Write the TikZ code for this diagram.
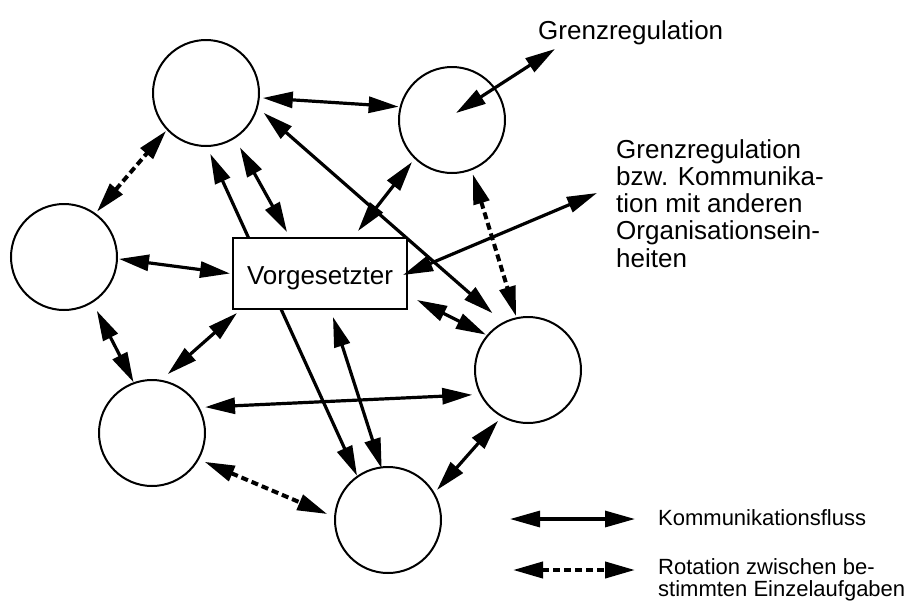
\documentclass[tikz,border=0pt]{standalone}
\usepackage{fontspec}
\setmainfont{Liberation Sans}
\usetikzlibrary{arrows.meta,calc,backgrounds}

\begin{document}
\begin{tikzpicture}[x=1pt,y=-1pt,
  unit/.style={circle,draw,line width=2pt,minimum size=106pt,inner sep=0pt,outer sep=0pt},
  chief/.style={draw,fill=white,line width=2pt,minimum width=174pt,minimum height=71pt,
    inner sep=0pt,outer sep=0pt,font=\fontsize{26}{27.3}\selectfont,text height=21pt,text depth=0pt},
  flow/.style={line width=3.2pt,{Triangle[length=30pt,width=16pt]}-{Triangle[length=30pt,width=16pt]}},
  rot/.style={flow,line width=4pt,dash pattern=on 7pt off 4pt},
  lbl/.style={inner sep=0pt,font=\fontsize{26}{27.3}\selectfont,align=left},
  leg/.style={inner sep=0pt,font=\fontsize{22}{22}\selectfont,align=left}]
\useasboundingbox (0,0) rectangle (910,608);

% organisational units and the supervisor
\node[unit] (c1) at (206,93) {};
\node[unit] (c2) at (452,120) {};
\node[unit] (c3) at (64,257) {};
\node[unit] (c4) at (528,370) {};
\node[unit] (c5) at (152,433) {};
\node[unit] (c6) at (388,520) {};
\node[chief] (box) at (320,273.5) {Vorgesetzter};

% outside labels
\node[lbl,anchor=base west] (gr1txt) at (538,39) {Grenzregulation};
\node[lbl,anchor=north west] (gr2txt) at (616,139)
  {Grenzregulation\\bzw. Kommunika-\\tion mit anderen\\Organisationsein-\\heiten};
\coordinate (gr1) at (555,49);
\coordinate (gr2) at (597,193);

% long lines running behind the supervisor box
\begin{pgfonlayer}{background}
\draw[flow] ($(c1)+(86:61)$) -- ($(c6)+(-125:54)$);
\draw[flow] ($(c1)+(19:61)$) -- ($(c4)+(-122:67)$);
\end{pgfonlayer}

% communication flows
\draw[flow] ($(c1)+(5:57)$) -- ($(c2)+(-166:55)$);
\draw[flow] ($(c2)+(4,-7)$) -- (gr1);
\draw[flow] ($(c1)+(58:64)$) -- ($(box.north)+(-33,-6)$);
\draw[flow] ($(box.north)+(38,-7)$) -- ($(c2)+(133.6:58)$);
\draw[flow] ($(c3)+(2:55)$) -- ($(box.west)+(-3,0)$);
\draw[flow] (gr2) -- ($(box.east)+(-4,1.5)$);
\draw[flow] ($(box.east)+(10,26.5)$) -- ($(c4)+(-140:55)$);
\draw[flow] ($(c3)+(58.6:63)$) -- ($(c5)+(-110:54)$);
\draw[flow] ($(c5)+(-75:61)$) -- ($(box.south west)+(4,4)$);
\draw[flow] ($(c5)+(-26:59)$) -- ($(c4)+(156:61)$);
\draw[flow] ($(box.south)+(13,8)$) -- ($(c6)+(-97:52)$);
\draw[flow] ($(c6)+(-31.5:57.5)$) -- ($(c4)+(120.5:59)$);

% rotation between tasks
\draw[rot] ($(c3)+(-54:56)$) -- ($(c1)+(136.5:55)$);
\draw[rot] ($(c2)+(69:58)$) -- ($(c4)+(-102.5:55)$);
\draw[rot] ($(c5)+(28.7:60)$) -- ($(c6)+(-174.4:61)$);

% legend
\coordinate (k1) at (510,519);
\coordinate (k2) at (635,519);
\coordinate (r1) at (513,570);
\coordinate (r2) at (635,570);
\draw[flow] (k1) -- (k2);
\draw[rot] (r1) -- (r2);
\node[leg,anchor=base west] (ktxt) at (658,525) {Kommunikationsfluss};
\node[leg,anchor=north west] (rtxt) at (658,558) {Rotation zwischen be-\\stimmten Einzelaufgaben};
\end{tikzpicture}
\end{document}
